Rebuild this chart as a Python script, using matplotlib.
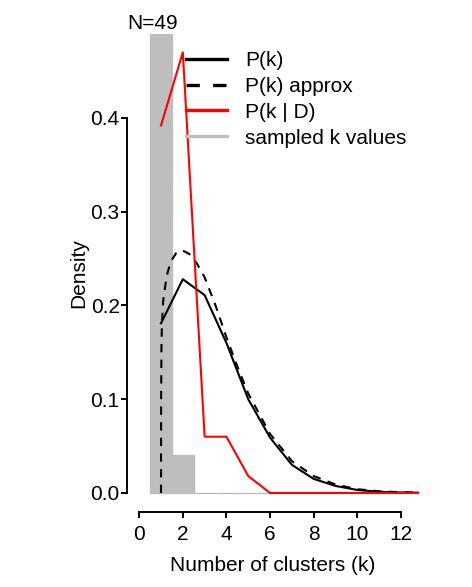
import numpy as np
import matplotlib
matplotlib.use('Agg')
import matplotlib.pyplot as plt
from matplotlib.lines import Line2D

plt.rcParams['font.family'] = ['Liberation Sans', 'DejaVu Sans']

# data
k = np.arange(1, 14)
p_k = [0.181, 0.228, 0.211, 0.160, 0.100, 0.059, 0.030, 0.015, 0.0075,
       0.0032, 0.0012, 0.0005, 0.0002]
p_k_post = [0.392, 0.470, 0.060, 0.060, 0.018, 0.0, 0.0, 0.0, 0.0,
            0.0, 0.0, 0.0, 0.0]

k_approx = [1.0, 1.005, 1.02, 1.04, 1.1, 1.2, 1.3, 1.45, 1.7, 1.96, 2.3,
            2.64, 3.0, 3.5, 4.0, 4.5, 5.0, 6.0, 7.0, 8.0, 9.0, 10.0, 11.0,
            12.0, 13.0]
p_approx = [0.0, 0.10, 0.155, 0.180, 0.205, 0.222, 0.235, 0.247, 0.256,
            0.259, 0.255, 0.245, 0.230, 0.200, 0.166, 0.135, 0.106, 0.063,
            0.034, 0.018, 0.009, 0.004, 0.0018, 0.0008, 0.0003]

hist_k = np.arange(1, 13)
hist_counts = [47, 2, 0, 0, 0, 0, 0, 0, 0, 0, 0, 0]
N = sum(hist_counts)

fs = 15
fig = plt.figure(figsize=(4.72, 5.87), dpi=100)
ax = fig.add_axes([127/472, 1-511.7/587, 292/472, (511.7-34)/587])

dens = np.array(hist_counts) / N
ax.bar(hist_k, dens, width=1.0, color='#bebebe', edgecolor='#bebebe',
       linewidth=1.0, zorder=1)
ax.plot(k, p_k, color='black', lw=1.5, zorder=3)
ax.plot(k_approx, p_approx, color='black', lw=1.5, ls=(0, (4, 3.5)), zorder=3)
ax.plot(k, p_k_post, color='red', lw=1.5, zorder=4)

ax.set_xlim(-0.56, 12.83)
ax.set_ylim(-0.02, 0.4896)

for s in ['top', 'right']:
    ax.spines[s].set_visible(False)
ax.spines['left'].set_bounds(0, 0.4)
ax.spines['bottom'].set_bounds(0, 12)
ax.spines['left'].set_linewidth(1.4)
ax.spines['bottom'].set_linewidth(1.4)

ax.set_xticks(np.arange(0, 13, 2))
ax.set_yticks([0.0, 0.1, 0.2, 0.3, 0.4])
ax.set_yticklabels(['0.0', '0.1', '0.2', '0.3', '0.4'])
ax.tick_params(axis='both', labelsize=fs, width=1.4, length=4.5)
ax.tick_params(axis='x', pad=5)
ax.tick_params(axis='y', pad=0.8)

ax.set_xlabel('Number of clusters (k)', fontsize=fs, labelpad=9)
ax.set_ylabel('Density', fontsize=fs, labelpad=1.5)
ax.text(0, 1 + 5/477.7, 'N=49', transform=ax.transAxes, fontsize=fs,
        ha='left', va='baseline')

handles = [Line2D([], [], color='black', lw=2.4),
           Line2D([], [], color='black', lw=2.4, ls=(0, (4, 4))),
           Line2D([], [], color='red', lw=2.4),
           Line2D([], [], color='#bebebe', lw=2.4)]
labels = ['P(k)', 'P(k) approx', 'P(k | D)', 'sampled k values']
ax.legend(handles, labels, loc='upper left', frameon=False, fontsize=fs,
          bbox_to_anchor=(186/472, 1-51/587), bbox_transform=fig.transFigure,
          borderpad=0, borderaxespad=0, handlelength=1.97, handletextpad=0.87,
          labelspacing=0.33)

fig.savefig('out.png', dpi=100)
